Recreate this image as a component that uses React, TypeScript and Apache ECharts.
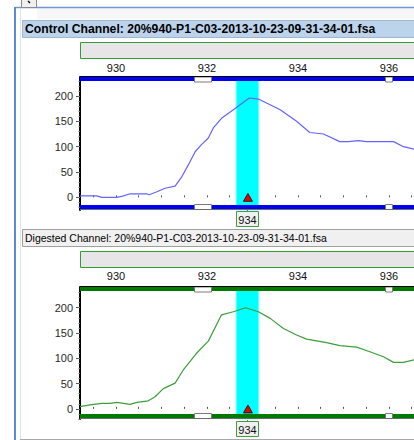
import React, { useEffect, useRef } from "react";
import * as echarts from "echarts";

// ---- data ----
const controlSize = [929.21, 929.58, 929.69, 930.02, 930.15, 930.31, 930.68, 930.73, 930.9, 931.08, 931.3, 931.45, 931.59, 931.74, 931.88, 932.03, 932.14, 932.32, 932.58, 932.93, 933.13, 933.61, 933.97, 934.26, 934.56, 934.92, 935.11, 935.33, 935.51, 936.1, 936.32, 936.55];
const controlRfu = [3, 3, 0, 0, 2.5, 7, 7, 5, 11, 18, 22, 41, 64, 90, 104, 117, 137, 156, 173, 196, 194, 173, 150, 128, 125, 110, 110, 112, 110, 110, 100, 95];

const digestedSize = [929.21, 929.43, 929.69, 929.87, 930.02, 930.31, 930.46, 930.71, 930.86, 931.04, 931.3, 931.48, 931.77, 932.03, 932.32, 932.58, 932.85, 933.13, 933.39, 933.68, 933.97, 934.19, 934.63, 934.92, 935.29, 935.58, 935.88, 936.1, 936.32, 936.55];
const digestedRfu = [4.6, 8, 11, 11, 13, 9, 13, 16, 24, 40, 51, 77, 110, 134, 186, 192, 200, 192, 179, 159, 146, 138, 131, 125, 122, 113, 103, 92, 92, 97];

const xTickLabels = [930, 932, 934, 936];
const xMinorTicks = [929.5, 930, 930.5, 931, 931.5, 932, 932.5, 933, 933.5, 934, 934.5, 935, 935.5, 936, 936.5];
const yTickLabels = [0, 50, 100, 150, 200];
const yMinorTicks = [-20, -10, 0, 10, 20, 30, 40, 50, 60, 70, 80, 90, 100, 110, 120, 130, 140, 150, 160, 170, 180, 190, 200, 210, 220, 230];

const binRange = [932.64, 933.14];
const peakSize = 932.9;
const peakLabel = "934";

const controlTitle = "Control Channel: 20%940-P1-C03-2013-10-23-09-31-34-01.fsa";
const digestedTitle = "Digested Channel: 20%940-P1-C03-2013-10-23-09-31-34-01.fsa";

const FONT = "Liberation Sans, Arial, sans-serif";

function barRects(y: number, h: number, color: string) {
  const segs = [
    [80, 194],
    [212, 385],
    [393, 414],
  ];
  return segs.map(([a, b]) => ({
    type: "rect",
    z: 100,
    shape: { x: a, y, width: b - a, height: h },
    style: { fill: color },
  }));
}

function gapRects(yTop: number, h: number) {
  const gaps = [
    [194, 212],
    [385, 393],
  ];
  return gaps.map(([a, b]) => ({
    type: "rect",
    z: 100,
    shape: { x: a + 0.5, y: yTop + 0.5, width: b - a - 1, height: h - 1 },
    style: { fill: "#ffffff", stroke: "#7a7a7a", lineWidth: 1 },
  }));
}

function panelChrome(o: {
  titleY: number;
  title: string;
  titleBg: string;
  titleStroke: string;
  titleFont: string;
  boxY: number;
  plotTop: number;
  plotBottom: number;
  barColor: string;
  labelY: number;
}) {
  const els: any[] = [];
  els.push({
    type: "rect",
    z: 90,
    shape: { x: 22.5, y: o.titleY + 0.5, width: 400, height: 17 },
    style: { fill: o.titleBg, stroke: o.titleStroke, lineWidth: 1 },
  });
  els.push({
    type: "text",
    z: 91,
    x: 25,
    y: o.titleY + 9,
    style: {
      text: o.title,
      fill: "#000",
      font: `${o.titleFont} ${FONT}`,
      verticalAlign: "middle",
    },
  });
  els.push({
    type: "rect",
    z: 90,
    shape: { x: 80.5, y: o.boxY + 0.5, width: 340, height: 16 },
    style: { fill: "#E7E5E7", stroke: "#2FA02F", lineWidth: 1 },
  });
  // bars
  els.push(...barRects(o.plotTop, 4, o.barColor));
  els.push(...barRects(o.plotBottom - 5, 4.5, o.barColor));
  els.push(...gapRects(o.plotTop - 0.5, 6));
  els.push(...gapRects(o.plotBottom - 6, 6));
  els.push({
    type: "line",
    z: 101,
    shape: { x1: 80, y1: o.plotTop - 0.5, x2: 414, y2: o.plotTop - 0.5 },
    style: { stroke: "#000", lineWidth: 1 },
  });
  els.push({
    type: "line",
    z: 101,
    shape: { x1: 80, y1: o.plotBottom - 0.5, x2: 414, y2: o.plotBottom - 0.5 },
    style: { stroke: "#6a6a6a", lineWidth: 1 },
  });
  // peak label box
  els.push({
    type: "rect",
    z: 102,
    shape: { x: 236.5, y: o.labelY + 0.5, width: 22, height: 15 },
    style: { fill: "#F0F0F0", stroke: "#3E9E3E", lineWidth: 1 },
  });
  els.push({
    type: "line",
    z: 102,
    shape: { x1: 247.5, y1: o.labelY - 1, x2: 247.5, y2: o.labelY + 1 },
    style: { stroke: "#3E9E3E", lineWidth: 1 },
  });
  els.push({
    type: "text",
    z: 103,
    x: 247.5,
    y: o.labelY + 8.5,
    style: {
      text: peakLabel,
      fill: "#111",
      font: `11px ${FONT}`,
      align: "center",
      verticalAlign: "middle",
    },
  });
  return els;
}

export default function App() {
  const ref = useRef<HTMLDivElement>(null);

  useEffect(() => {
    document.body.style.margin = "0";
    const chart = echarts.init(ref.current!, null, { renderer: "svg" });

    const xAxisBase = (gridIndex: number, margin: number) => ({
      type: "value",
      gridIndex,
      position: "top",
      min: 929.21,
      max: 936.55,
      axisLine: { show: false },
      splitLine: { show: false },
      axisTick: {
        show: true,
        customValues: xMinorTicks,
        length: 2,
        lineStyle: { color: "#555" },
      },
      axisLabel: {
        customValues: xTickLabels,
        margin,
        color: "#111111",
        fontFamily: FONT,
        fontSize: 11,
      },
    });

    const yAxisMain = (gridIndex: number, min: number, max: number) => ({
      type: "value",
      gridIndex,
      min,
      max,
      splitLine: { show: false },
      axisLine: { show: true, lineStyle: { color: "#000", width: 2 } },
      axisTick: { show: true, customValues: yTickLabels, length: 4, lineStyle: { color: "#555" } },
      axisLabel: {
        customValues: yTickLabels,
        margin: 7,
        color: "#2a2a2a",
        fontFamily: FONT,
        fontSize: 11,
      },
    });

    const yAxisMinor = (gridIndex: number, min: number, max: number) => ({
      type: "value",
      gridIndex,
      min,
      max,
      position: "left",
      splitLine: { show: false },
      axisLine: { show: false },
      axisLabel: { show: false },
      axisTick: { show: true, customValues: yMinorTicks, length: 1.5, lineStyle: { color: "#777" } },
    });

    const band = {
      silent: true,
      itemStyle: { color: "#00FFFF", borderColor: "#8FFFFF", borderWidth: 1 },
      data: [[{ xAxis: binRange[0] }, { xAxis: binRange[1] }]],
    };
    const tri = {
      silent: true,
      symbol: "triangle",
      symbolSize: [9, 8],
      itemStyle: { color: "#E80000", borderColor: "#200000", borderWidth: 0.8 },
      label: { show: false },
      data: [{ coord: [peakSize, 0] }],
    };

    const graphics: any[] = [
      // window chrome
      {
        type: "rect",
        z: 80,
        shape: { x: 37, y: 8, width: 377, height: 11 },
        style: { fill: "#F7F7F7" },
      },
      {
        type: "line",
        z: 85,
        shape: { x1: 15, y1: 7.5, x2: 414, y2: 7.5 },
        style: { stroke: "#6F98CE", lineWidth: 1.5 },
      },
      {
        type: "line",
        z: 85,
        shape: { x1: 15, y1: 7, x2: 15, y2: 440 },
        style: { stroke: "#5B8CCF", lineWidth: 2 },
      },
      {
        type: "line",
        z: 85,
        shape: { x1: 20.5, y1: 8, x2: 20.5, y2: 440 },
        style: { stroke: "#E2E2E2", lineWidth: 1 },
      },
      {
        type: "rect",
        z: 86,
        shape: { x: 21.5, y: -1, width: 15, height: 8.5 },
        style: { fill: "#F0F0F0", stroke: "#8A8A8A", lineWidth: 1 },
      },
      {
        type: "line",
        z: 87,
        shape: { x1: 28, y1: 1, x2: 30, y2: 3 },
        style: { stroke: "#000", lineWidth: 1.2 },
      },
      {
        type: "line",
        z: 85,
        shape: { x1: 20, y1: 439.5, x2: 414, y2: 439.5 },
        style: { stroke: "#A8A8A8", lineWidth: 1 },
      },
      ...panelChrome({
        titleY: 20,
        title: controlTitle,
        titleBg: "#BCD3EC",
        titleStroke: "#9FB6D2",
        titleFont: "bold 12.2px",
        boxY: 42,
        plotTop: 77,
        plotBottom: 210,
        barColor: "#0000F0",
        labelY: 211,
      }),
      ...panelChrome({
        titleY: 229,
        title: digestedTitle,
        titleBg: "#F0F0F0",
        titleStroke: "#A0A0A0",
        titleFont: "10.5px",
        boxY: 251,
        plotTop: 287,
        plotBottom: 419,
        barColor: "#007A00",
        labelY: 421,
      }),
    ];

    chart.setOption({
      animation: false,
      backgroundColor: "#ffffff",
      grid: [
        { left: 80, top: 77, width: 334, height: 133 },
        { left: 80, top: 287, width: 334, height: 132 },
      ],
      xAxis: [xAxisBase(0, 4), xAxisBase(1, 6)],
      yAxis: [
        yAxisMain(0, -25, 237.5),
        yAxisMain(1, -20, 241),
        yAxisMinor(0, -25, 237.5),
        yAxisMinor(1, -20, 241),
      ],
      series: [
        {
          type: "line",
          xAxisIndex: 0,
          yAxisIndex: 0,
          data: controlSize.map((s, i) => [s, controlRfu[i]]),
          showSymbol: false,
          symbol: "none",
          lineStyle: { color: "#6464FF", width: 1.2 },
          markArea: band,
          markPoint: tri,
          z: 3,
        },
        {
          type: "line",
          xAxisIndex: 1,
          yAxisIndex: 1,
          data: digestedSize.map((s, i) => [s, digestedRfu[i]]),
          showSymbol: false,
          symbol: "none",
          lineStyle: { color: "#3C9E3C", width: 1.2 },
          markArea: band,
          markPoint: tri,
          z: 3,
        },
      ],
      graphic: graphics,
    });

    return () => chart.dispose();
  }, []);

  return <div ref={ref} style={{ width: 414, height: 440 }} />;
}
